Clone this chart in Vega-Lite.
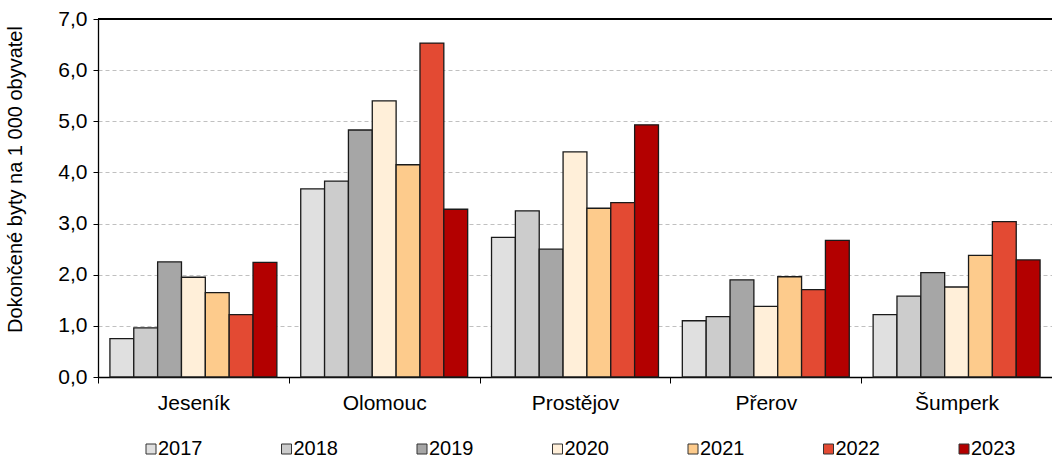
{
  "$schema": "https://vega.github.io/schema/vega-lite/v6.json",
  "autosize": "none",
  "width": 954,
  "height": 358,
  "padding": {"left": 98, "top": 19, "right": 0, "bottom": 82},
  "background": "white",
  "config": {
    "font": "Liberation Sans",
    "view": {"stroke": null},
    "axis": {"labelFont": "Liberation Sans", "titleFont": "Liberation Sans", "labelColor": "black", "titleColor": "black"}
  },
  "data": {"values": [
    {"okres": "Jeseník", "rok": "2017", "v": 0.75},
    {"okres": "Jeseník", "rok": "2018", "v": 0.96},
    {"okres": "Jeseník", "rok": "2019", "v": 2.25},
    {"okres": "Jeseník", "rok": "2020", "v": 1.95},
    {"okres": "Jeseník", "rok": "2021", "v": 1.65},
    {"okres": "Jeseník", "rok": "2022", "v": 1.22},
    {"okres": "Jeseník", "rok": "2023", "v": 2.24},
    {"okres": "Olomouc", "rok": "2017", "v": 3.68},
    {"okres": "Olomouc", "rok": "2018", "v": 3.83},
    {"okres": "Olomouc", "rok": "2019", "v": 4.83},
    {"okres": "Olomouc", "rok": "2020", "v": 5.40},
    {"okres": "Olomouc", "rok": "2021", "v": 4.15},
    {"okres": "Olomouc", "rok": "2022", "v": 6.53},
    {"okres": "Olomouc", "rok": "2023", "v": 3.28},
    {"okres": "Prostějov", "rok": "2017", "v": 2.73},
    {"okres": "Prostějov", "rok": "2018", "v": 3.25},
    {"okres": "Prostějov", "rok": "2019", "v": 2.50},
    {"okres": "Prostějov", "rok": "2020", "v": 4.40},
    {"okres": "Prostějov", "rok": "2021", "v": 3.30},
    {"okres": "Prostějov", "rok": "2022", "v": 3.41},
    {"okres": "Prostějov", "rok": "2023", "v": 4.93},
    {"okres": "Přerov", "rok": "2017", "v": 1.10},
    {"okres": "Přerov", "rok": "2018", "v": 1.18},
    {"okres": "Přerov", "rok": "2019", "v": 1.90},
    {"okres": "Přerov", "rok": "2020", "v": 1.38},
    {"okres": "Přerov", "rok": "2021", "v": 1.96},
    {"okres": "Přerov", "rok": "2022", "v": 1.71},
    {"okres": "Přerov", "rok": "2023", "v": 2.67},
    {"okres": "Šumperk", "rok": "2017", "v": 1.22},
    {"okres": "Šumperk", "rok": "2018", "v": 1.58},
    {"okres": "Šumperk", "rok": "2019", "v": 2.04},
    {"okres": "Šumperk", "rok": "2020", "v": 1.76},
    {"okres": "Šumperk", "rok": "2021", "v": 2.38},
    {"okres": "Šumperk", "rok": "2022", "v": 3.04},
    {"okres": "Šumperk", "rok": "2023", "v": 2.29}
  ]},
  "layer": [
    {
      "mark": {"type": "bar", "stroke": "#1a1a1a", "strokeWidth": 1.3},
      "encoding": {
        "x": {
          "field": "okres", "type": "nominal", "sort": null,
          "scale": {"paddingInner": 0, "paddingOuter": 0},
          "axis": {"title": null, "labelAngle": 0, "labelFontSize": 21, "labelPadding": 9, "tickBand": "extent", "domainColor": "black", "tickColor": "black", "tickSize": 6, "domainWidth": 1.3}
        },
        "xOffset": {"field": "rok", "type": "nominal", "scale": {"paddingInner": 0, "paddingOuter": 0.5}},
        "y": {
          "field": "v", "type": "quantitative",
          "scale": {"domain": [0, 7]},
          "axis": {
            "title": "Dokončené byty na 1 000 obyvatel", "titleFontSize": 20, "titleFontWeight": "normal",
            "titleX": -83, "titleY": 160, "titleBaseline": "middle", "titleAlign": "center", "titleAngle": -90,
            "labelFontSize": 21, "labelPadding": 6, "tickCount": 7, "labelExpr": "replace(format(datum.value, '.1f'), '.', ',')",
            "gridDash": [4, 3], "gridColor": "#c0c0c0", "domainColor": "black", "tickColor": "black", "tickSize": 5, "domainWidth": 1.3
          }
        },
        "color": {
          "field": "rok", "type": "nominal",
          "scale": {"domain": ["2017", "2018", "2019", "2020", "2021", "2022", "2023"], "range": ["#e0e0e0", "#cccccc", "#a6a6a6", "#ffefd9", "#fdcb8c", "#e34a33", "#b30000"]},
          "legend": {
            "title": null, "orient": "none", "legendX": 43, "legendY": 420, "direction": "horizontal",
            "symbolType": "square", "symbolSize": 100, "symbolStrokeColor": "#333333", "symbolStrokeWidth": 1, "symbolOpacity": 1,
            "labelFontSize": 20, "labelFont": "Liberation Sans", "labelOffset": -3, "columnPadding": 73.5, "symbolOffset": 0
          }
        }
      }
    },
    {
      "mark": {"type": "rule", "color": "black", "strokeWidth": 1.3},
      "encoding": {"y": {"datum": 7}}
    }
  ]
}
